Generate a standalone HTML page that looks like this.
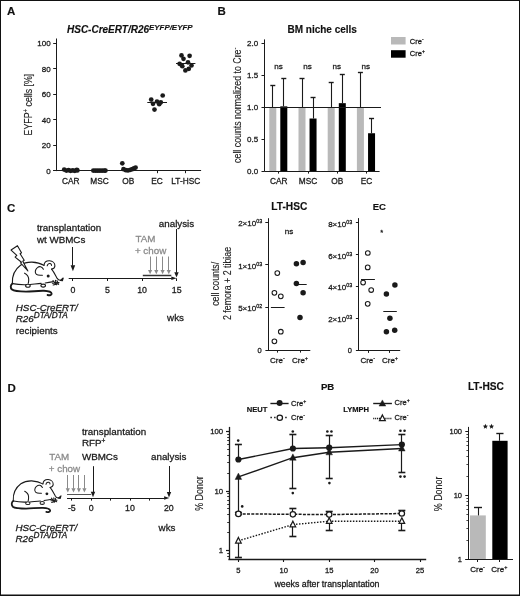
<!DOCTYPE html>
<html><head><meta charset="utf-8"><style>
html,body{margin:0;padding:0;background:#fff;}
svg{display:block;will-change:transform;}
text{font-family:"Liberation Sans", sans-serif;}
</style></head><body>
<svg width="520" height="596" viewBox="0 0 520 596" font-family='"Liberation Sans", sans-serif'>
<rect x="0" y="0" width="520" height="596" fill="#ffffff"/>
<text x="7" y="15.4" font-size="11.5" text-anchor="start" font-weight="bold" font-style="normal" fill="#111" stroke="#111" stroke-width="0.15" >A</text>
<text x="217.4" y="15.4" font-size="11.5" text-anchor="start" font-weight="bold" font-style="normal" fill="#111" stroke="#111" stroke-width="0.15" >B</text>
<text x="7.1" y="211.9" font-size="11.5" text-anchor="start" font-weight="bold" font-style="normal" fill="#111" stroke="#111" stroke-width="0.15" >C</text>
<text x="7.6" y="392" font-size="11.5" text-anchor="start" font-weight="bold" font-style="normal" fill="#111" stroke="#111" stroke-width="0.15" >D</text>
<text x="67" y="33.2" font-size="10" text-anchor="start" font-weight="bold" font-style="italic" fill="#111" stroke="#111" stroke-width="0.15" >HSC-CreERT/R26<tspan font-size="7.9" dy="-3.4">EYFP/EYFP</tspan></text>
<line x1="56.5" y1="38.5" x2="56.5" y2="171.1" stroke="#1a1a1a" stroke-width="1" />
<line x1="53.2" y1="170.5" x2="201.1" y2="170.5" stroke="#1a1a1a" stroke-width="1" />
<line x1="53.2" y1="170.5" x2="56.4" y2="170.5" stroke="#1a1a1a" stroke-width="1" />
<text x="50.6" y="173.5" font-size="8" text-anchor="end" font-weight="normal" font-style="normal" fill="#1a1a1a" stroke="#1a1a1a" stroke-width="0.28" >0</text>
<line x1="53.2" y1="145.5" x2="56.4" y2="145.5" stroke="#1a1a1a" stroke-width="1" />
<text x="50.6" y="148.06" font-size="8" text-anchor="end" font-weight="normal" font-style="normal" fill="#1a1a1a" stroke="#1a1a1a" stroke-width="0.28" >20</text>
<line x1="53.2" y1="119.5" x2="56.4" y2="119.5" stroke="#1a1a1a" stroke-width="1" />
<text x="50.6" y="122.62" font-size="8" text-anchor="end" font-weight="normal" font-style="normal" fill="#1a1a1a" stroke="#1a1a1a" stroke-width="0.28" >40</text>
<line x1="53.2" y1="94.5" x2="56.4" y2="94.5" stroke="#1a1a1a" stroke-width="1" />
<text x="50.6" y="97.18" font-size="8" text-anchor="end" font-weight="normal" font-style="normal" fill="#1a1a1a" stroke="#1a1a1a" stroke-width="0.28" >60</text>
<line x1="53.2" y1="68.5" x2="56.4" y2="68.5" stroke="#1a1a1a" stroke-width="1" />
<text x="50.6" y="71.74" font-size="8" text-anchor="end" font-weight="normal" font-style="normal" fill="#1a1a1a" stroke="#1a1a1a" stroke-width="0.28" >80</text>
<line x1="53.2" y1="43.5" x2="56.4" y2="43.5" stroke="#1a1a1a" stroke-width="1" />
<text x="50.6" y="46.3" font-size="8" text-anchor="end" font-weight="normal" font-style="normal" fill="#1a1a1a" stroke="#1a1a1a" stroke-width="0.28" >100</text>
<text x="70.8" y="184.1" font-size="8.3" text-anchor="middle" font-weight="normal" font-style="normal" fill="#1a1a1a" stroke="#1a1a1a" stroke-width="0.28" >CAR</text>
<text x="99.55" y="184.1" font-size="8.3" text-anchor="middle" font-weight="normal" font-style="normal" fill="#1a1a1a" stroke="#1a1a1a" stroke-width="0.28" >MSC</text>
<text x="128.3" y="184.1" font-size="8.3" text-anchor="middle" font-weight="normal" font-style="normal" fill="#1a1a1a" stroke="#1a1a1a" stroke-width="0.28" >OB</text>
<line x1="157.5" y1="170.6" x2="157.5" y2="173.2" stroke="#1a1a1a" stroke-width="1" />
<text x="157.05" y="184.1" font-size="8.3" text-anchor="middle" font-weight="normal" font-style="normal" fill="#1a1a1a" stroke="#1a1a1a" stroke-width="0.28" >EC</text>
<line x1="185.5" y1="170.6" x2="185.5" y2="173.2" stroke="#1a1a1a" stroke-width="1" />
<text x="185.8" y="184.1" font-size="8.3" text-anchor="middle" font-weight="normal" font-style="normal" fill="#1a1a1a" stroke="#1a1a1a" stroke-width="0.28" >LT-HSC</text>
<text transform="translate(31.6,104.6) rotate(-90) scale(0.87,1)" stroke="#1a1a1a" stroke-width="0.12" font-size="10.12" text-anchor="middle" fill="#1a1a1a">EYFP<tspan font-size="6.9" dy="-3.4">+</tspan><tspan dy="3.4"> cells [%]</tspan></text>
<circle cx="64.2" cy="169.6" r="2.35" fill="#1a1a1a" stroke="none" stroke-width="0"/>
<circle cx="66.4" cy="170.6" r="2.35" fill="#1a1a1a" stroke="none" stroke-width="0"/>
<circle cx="68.6" cy="170.2" r="2.35" fill="#1a1a1a" stroke="none" stroke-width="0"/>
<circle cx="70.6" cy="170.8" r="2.35" fill="#1a1a1a" stroke="none" stroke-width="0"/>
<circle cx="72.8" cy="170.4" r="2.35" fill="#1a1a1a" stroke="none" stroke-width="0"/>
<circle cx="74.8" cy="170.8" r="2.35" fill="#1a1a1a" stroke="none" stroke-width="0"/>
<circle cx="76.8" cy="169.8" r="2.35" fill="#1a1a1a" stroke="none" stroke-width="0"/>
<circle cx="77.4" cy="170.4" r="2.35" fill="#1a1a1a" stroke="none" stroke-width="0"/>
<circle cx="93.3" cy="170.6" r="2.35" fill="#1a1a1a" stroke="none" stroke-width="0"/>
<circle cx="95.5" cy="170.7" r="2.35" fill="#1a1a1a" stroke="none" stroke-width="0"/>
<circle cx="97.7" cy="170.7" r="2.35" fill="#1a1a1a" stroke="none" stroke-width="0"/>
<circle cx="99.9" cy="170.7" r="2.35" fill="#1a1a1a" stroke="none" stroke-width="0"/>
<circle cx="102.1" cy="170.7" r="2.35" fill="#1a1a1a" stroke="none" stroke-width="0"/>
<circle cx="104.3" cy="170.6" r="2.35" fill="#1a1a1a" stroke="none" stroke-width="0"/>
<circle cx="105.5" cy="170.6" r="2.35" fill="#1a1a1a" stroke="none" stroke-width="0"/>
<circle cx="122.3" cy="163.3" r="2.35" fill="#1a1a1a" stroke="none" stroke-width="0"/>
<circle cx="123.5" cy="169.2" r="2.35" fill="#1a1a1a" stroke="none" stroke-width="0"/>
<circle cx="125.8" cy="170.2" r="2.35" fill="#1a1a1a" stroke="none" stroke-width="0"/>
<circle cx="128" cy="170.4" r="2.35" fill="#1a1a1a" stroke="none" stroke-width="0"/>
<circle cx="130.3" cy="169.8" r="2.35" fill="#1a1a1a" stroke="none" stroke-width="0"/>
<circle cx="132.3" cy="169.2" r="2.35" fill="#1a1a1a" stroke="none" stroke-width="0"/>
<circle cx="134" cy="168.4" r="2.35" fill="#1a1a1a" stroke="none" stroke-width="0"/>
<circle cx="135.6" cy="167.6" r="2.35" fill="#1a1a1a" stroke="none" stroke-width="0"/>
<line x1="147.3" y1="102.5" x2="167" y2="102.5" stroke="#1a1a1a" stroke-width="1" />
<circle cx="162.7" cy="95.5" r="2.35" fill="#1a1a1a" stroke="none" stroke-width="0"/>
<circle cx="151.2" cy="99.6" r="2.35" fill="#1a1a1a" stroke="none" stroke-width="0"/>
<circle cx="153" cy="103.8" r="2.35" fill="#1a1a1a" stroke="none" stroke-width="0"/>
<circle cx="157" cy="101.5" r="2.35" fill="#1a1a1a" stroke="none" stroke-width="0"/>
<circle cx="159.2" cy="104.2" r="2.35" fill="#1a1a1a" stroke="none" stroke-width="0"/>
<circle cx="160.8" cy="102.3" r="2.35" fill="#1a1a1a" stroke="none" stroke-width="0"/>
<circle cx="154.5" cy="109.6" r="2.35" fill="#1a1a1a" stroke="none" stroke-width="0"/>
<line x1="176" y1="63.5" x2="195.4" y2="63.5" stroke="#1a1a1a" stroke-width="1" />
<circle cx="181.5" cy="55.4" r="2.35" fill="#1a1a1a" stroke="none" stroke-width="0"/>
<circle cx="189.6" cy="55.8" r="2.35" fill="#1a1a1a" stroke="none" stroke-width="0"/>
<circle cx="183.5" cy="58.8" r="2.35" fill="#1a1a1a" stroke="none" stroke-width="0"/>
<circle cx="188" cy="62.3" r="2.35" fill="#1a1a1a" stroke="none" stroke-width="0"/>
<circle cx="179.6" cy="63.8" r="2.35" fill="#1a1a1a" stroke="none" stroke-width="0"/>
<circle cx="182.3" cy="66.2" r="2.35" fill="#1a1a1a" stroke="none" stroke-width="0"/>
<circle cx="191.5" cy="65.4" r="2.35" fill="#1a1a1a" stroke="none" stroke-width="0"/>
<circle cx="185.4" cy="70.4" r="2.35" fill="#1a1a1a" stroke="none" stroke-width="0"/>
<circle cx="188.8" cy="68.8" r="2.35" fill="#1a1a1a" stroke="none" stroke-width="0"/>
<text x="322.2" y="33.3" font-size="10" text-anchor="middle" font-weight="bold" font-style="normal" fill="#111" stroke="#111" stroke-width="0.15" >BM niche cells</text>
<rect x="269.3" y="107" width="7" height="64" fill="#b9b9b9"/>
<rect x="280.3" y="106.36" width="7" height="64.64" fill="#000"/>
<rect x="298.5" y="107" width="7" height="64" fill="#b9b9b9"/>
<rect x="309.55" y="118.52" width="7" height="52.48" fill="#000"/>
<rect x="327.7" y="107" width="7" height="64" fill="#b9b9b9"/>
<rect x="338.8" y="103.16" width="7" height="67.84" fill="#000"/>
<rect x="356.9" y="107" width="7" height="64" fill="#b9b9b9"/>
<rect x="368.05" y="133.24" width="7" height="37.76" fill="#000"/>
<line x1="272.5" y1="107" x2="272.5" y2="85.7" stroke="#1a1a1a" stroke-width="1.1" />
<line x1="270.3" y1="85.5" x2="275.3" y2="85.5" stroke="#1a1a1a" stroke-width="1.4" />
<line x1="283.5" y1="106.36" x2="283.5" y2="78.9" stroke="#1a1a1a" stroke-width="1.1" />
<line x1="281.3" y1="78.5" x2="286.3" y2="78.5" stroke="#1a1a1a" stroke-width="1.4" />
<line x1="302.5" y1="107" x2="302.5" y2="78.6" stroke="#1a1a1a" stroke-width="1.1" />
<line x1="299.5" y1="78.5" x2="304.5" y2="78.5" stroke="#1a1a1a" stroke-width="1.4" />
<line x1="313.5" y1="118.52" x2="313.5" y2="97" stroke="#1a1a1a" stroke-width="1.1" />
<line x1="310.55" y1="97.5" x2="315.55" y2="97.5" stroke="#1a1a1a" stroke-width="1.4" />
<line x1="331.5" y1="107" x2="331.5" y2="82" stroke="#1a1a1a" stroke-width="1.1" />
<line x1="328.7" y1="82.5" x2="333.7" y2="82.5" stroke="#1a1a1a" stroke-width="1.4" />
<line x1="342.5" y1="103.16" x2="342.5" y2="74.2" stroke="#1a1a1a" stroke-width="1.1" />
<line x1="339.8" y1="74.5" x2="344.8" y2="74.5" stroke="#1a1a1a" stroke-width="1.4" />
<line x1="360.5" y1="107" x2="360.5" y2="72.8" stroke="#1a1a1a" stroke-width="1.1" />
<line x1="357.9" y1="72.5" x2="362.9" y2="72.5" stroke="#1a1a1a" stroke-width="1.4" />
<line x1="371.5" y1="133.24" x2="371.5" y2="118.5" stroke="#1a1a1a" stroke-width="1.1" />
<line x1="369.05" y1="118.5" x2="374.05" y2="118.5" stroke="#1a1a1a" stroke-width="1.4" />
<line x1="264.3" y1="107.5" x2="381" y2="107.5" stroke="#1a1a1a" stroke-width="1" />
<line x1="264.5" y1="39.4" x2="264.5" y2="171.5" stroke="#1a1a1a" stroke-width="1" />
<line x1="264.3" y1="171.5" x2="379.6" y2="171.5" stroke="#1a1a1a" stroke-width="1" />
<line x1="261.5" y1="171.5" x2="264.3" y2="171.5" stroke="#1a1a1a" stroke-width="1" />
<text x="258.2" y="173.9" font-size="8" text-anchor="end" font-weight="normal" font-style="normal" fill="#1a1a1a" stroke="#1a1a1a" stroke-width="0.28" >0.0</text>
<line x1="261.5" y1="139.5" x2="264.3" y2="139.5" stroke="#1a1a1a" stroke-width="1" />
<text x="258.2" y="141.9" font-size="8" text-anchor="end" font-weight="normal" font-style="normal" fill="#1a1a1a" stroke="#1a1a1a" stroke-width="0.28" >0.5</text>
<line x1="261.5" y1="107.5" x2="264.3" y2="107.5" stroke="#1a1a1a" stroke-width="1" />
<text x="258.2" y="109.9" font-size="8" text-anchor="end" font-weight="normal" font-style="normal" fill="#1a1a1a" stroke="#1a1a1a" stroke-width="0.28" >1.0</text>
<line x1="261.5" y1="75.5" x2="264.3" y2="75.5" stroke="#1a1a1a" stroke-width="1" />
<text x="258.2" y="77.9" font-size="8" text-anchor="end" font-weight="normal" font-style="normal" fill="#1a1a1a" stroke="#1a1a1a" stroke-width="0.28" >1.5</text>
<line x1="261.5" y1="43.5" x2="264.3" y2="43.5" stroke="#1a1a1a" stroke-width="1" />
<text x="258.2" y="45.9" font-size="8" text-anchor="end" font-weight="normal" font-style="normal" fill="#1a1a1a" stroke="#1a1a1a" stroke-width="0.28" >2.0</text>
<line x1="278.5" y1="171" x2="278.5" y2="173.6" stroke="#1a1a1a" stroke-width="1" />
<text x="278.8" y="184.3" font-size="8.3" text-anchor="middle" font-weight="normal" font-style="normal" fill="#1a1a1a" stroke="#1a1a1a" stroke-width="0.28" >CAR</text>
<text x="278.5" y="68.5" font-size="8.1" text-anchor="middle" font-weight="normal" font-style="normal" fill="#1a1a1a" stroke="#1a1a1a" stroke-width="0.28" >ns</text>
<line x1="308.5" y1="171" x2="308.5" y2="173.6" stroke="#1a1a1a" stroke-width="1" />
<text x="308" y="184.3" font-size="8.3" text-anchor="middle" font-weight="normal" font-style="normal" fill="#1a1a1a" stroke="#1a1a1a" stroke-width="0.28" >MSC</text>
<text x="307.6" y="68.5" font-size="8.1" text-anchor="middle" font-weight="normal" font-style="normal" fill="#1a1a1a" stroke="#1a1a1a" stroke-width="0.28" >ns</text>
<line x1="337.5" y1="171" x2="337.5" y2="173.6" stroke="#1a1a1a" stroke-width="1" />
<text x="337.2" y="184.3" font-size="8.3" text-anchor="middle" font-weight="normal" font-style="normal" fill="#1a1a1a" stroke="#1a1a1a" stroke-width="0.28" >OB</text>
<text x="336.7" y="68.5" font-size="8.1" text-anchor="middle" font-weight="normal" font-style="normal" fill="#1a1a1a" stroke="#1a1a1a" stroke-width="0.28" >ns</text>
<line x1="366.5" y1="171" x2="366.5" y2="173.6" stroke="#1a1a1a" stroke-width="1" />
<text x="366.4" y="184.3" font-size="8.3" text-anchor="middle" font-weight="normal" font-style="normal" fill="#1a1a1a" stroke="#1a1a1a" stroke-width="0.28" >EC</text>
<text x="365.8" y="68.5" font-size="8.1" text-anchor="middle" font-weight="normal" font-style="normal" fill="#1a1a1a" stroke="#1a1a1a" stroke-width="0.28" >ns</text>
<text transform="translate(240.6,105.3) rotate(-90) scale(0.87,1)" stroke="#1a1a1a" stroke-width="0.12" font-size="10.12" text-anchor="middle" fill="#1a1a1a">cell counts normalized to Cre<tspan font-size="6.3" dy="-3.4">-</tspan></text>
<rect x="391" y="37" width="14.6" height="7.5" fill="#b9b9b9"/>
<rect x="391" y="50.2" width="14.6" height="7.5" fill="#000"/>
<text x="409.8" y="43.7" font-size="7.5" text-anchor="start" font-weight="normal" font-style="normal" fill="#1a1a1a" stroke="#1a1a1a" stroke-width="0.28" >Cre<tspan font-size="5" dy="-3">-</tspan></text>
<text x="409.8" y="56.4" font-size="7.5" text-anchor="start" font-weight="normal" font-style="normal" fill="#1a1a1a" stroke="#1a1a1a" stroke-width="0.28" >Cre<tspan font-size="5" dy="-3">+</tspan></text>
<g transform="translate(0,245) scale(1.0)" fill="none" stroke="#1a1a1a" stroke-width="1.1" stroke-linecap="round" stroke-linejoin="round">
<path d="M12.4,38.2 C12,31 14,25 20.5,20.2 C24,17.8 28,17 32,17.1 C36,17.3 40,18 43.8,20.3"/>
<path d="M44,20.4 C44.2,17.3 46.3,15.6 49.5,15.7 C52.6,15.9 55,18 54.9,21 C54.8,22.8 53.4,23.8 51.6,24.1"/>
<path d="M47.2,20.8 C47.6,18.9 49,18.2 50.2,18.6 C51.2,19 51.6,19.8 51.5,20.4"/>
<path d="M51.6,24.1 C54,27 55.6,30.5 57.2,33.4 C58.2,35 59.5,35.3 60.6,35.2"/>
<path d="M60.4,35.4 L63.2,33 L62.4,35.8 Z" fill="#1a1a1a"/>
<path d="M43.4,24.2 C42,21.4 39.4,21 37.4,22.6 C35,24.4 34.6,28 36.4,29.4 C38,30.6 40.5,30.4 42.4,30.2"/>
<circle cx="48.2" cy="30.9" r="1.5" fill="#1a1a1a" stroke="none"/>
<path d="M24.6,28.2 C27,29.5 28.6,31.5 28.7,34 C28.8,35.5 28.6,37 28.3,38.3"/>
<path d="M12.6,38.6 C17,39.5 22,39.8 26,39.7 M30.2,39.5 C34,39.1 38,38.8 41.2,38.4 M45.2,38 C48,37.4 50.5,37 53.4,36.6"/>
<ellipse cx="27.9" cy="40.8" rx="2.3" ry="1.5"/>
<ellipse cx="43.2" cy="40.6" rx="2.3" ry="1.5"/>
<path d="M53,35.5 L55.6,38.6 M55.4,35.2 L56.4,39.8 M57,35.6 L58.6,39.4 M52.4,38.2 L59,37.6 M53.2,40 L58.4,38.6"/>
<path d="M12.4,38.4 C10.4,40 10.2,43 12,44.6 C14,46.2 18,46.6 26,46.6 C32,46.6 38,45.6 44,45.8 C48,46 51.4,47 51.6,48.6 C51.8,50.2 49.8,50.6 47.6,50" stroke-width="1.9"/>
<path d="M11.06,5.07 L17.45,0.7 L21.5,7.8 L20.1,8.8 L24.2,15.2 L22.8,16.2 L27.9,25.9 L20.6,18 L21.5,17.2 L15.1,12.1 L16.8,10.4 Z" fill="#fff"/>
</g>
<text x="36.9" y="230.8" font-size="9.8" text-anchor="start" font-weight="normal" font-style="normal" fill="#1a1a1a" stroke="#1a1a1a" stroke-width="0.28" >transplantation</text>
<text x="36.9" y="242.7" font-size="9.8" text-anchor="start" font-weight="normal" font-style="normal" fill="#1a1a1a" stroke="#1a1a1a" stroke-width="0.28" >wt WBMCs</text>
<line x1="72.5" y1="247" x2="72.5" y2="265.7" stroke="#1a1a1a" stroke-width="1" />
<path d="M70.6,265.2 L75.2,265.2 L72.9,271.2 Z" fill="#1a1a1a"/>
<text x="158.8" y="226.5" font-size="9.8" text-anchor="start" font-weight="normal" font-style="normal" fill="#1a1a1a" stroke="#1a1a1a" stroke-width="0.28" >analysis</text>
<line x1="176.5" y1="229" x2="176.5" y2="272.7" stroke="#1a1a1a" stroke-width="1" />
<path d="M174.3,272.2 L178.7,272.2 L176.5,277.4 Z" fill="#1a1a1a"/>
<text x="135.4" y="242.3" font-size="9.8" text-anchor="start" font-weight="normal" font-style="normal" fill="#8a8a8a" stroke="#8a8a8a" stroke-width="0.28" >TAM</text>
<text x="134.9" y="254.4" font-size="9.8" text-anchor="start" font-weight="normal" font-style="normal" fill="#8a8a8a" stroke="#8a8a8a" stroke-width="0.28" >+ chow</text>
<line x1="150.5" y1="256.5" x2="150.5" y2="270.4" stroke="#8a8a8a" stroke-width="1" />
<path d="M148,269.9 L152.2,269.9 L150.1,274.3 Z" fill="#8a8a8a"/>
<line x1="156.5" y1="256.5" x2="156.5" y2="270.4" stroke="#8a8a8a" stroke-width="1" />
<path d="M154.2,269.9 L158.4,269.9 L156.3,274.3 Z" fill="#8a8a8a"/>
<line x1="162.5" y1="256.5" x2="162.5" y2="270.4" stroke="#8a8a8a" stroke-width="1" />
<path d="M160.5,269.9 L164.7,269.9 L162.6,274.3 Z" fill="#8a8a8a"/>
<line x1="168.5" y1="256.5" x2="168.5" y2="270.4" stroke="#8a8a8a" stroke-width="1" />
<path d="M166.7,269.9 L170.9,269.9 L168.8,274.3 Z" fill="#8a8a8a"/>
<line x1="142.8" y1="275.5" x2="171.3" y2="275.5" stroke="#333" stroke-width="1.5" />
<line x1="68.7" y1="278.5" x2="171.8" y2="278.5" stroke="#1a1a1a" stroke-width="1" />
<path d="M171.3,276.5 L171.3,280.1 L176.6,278.3 Z" fill="#1a1a1a"/>
<line x1="72.5" y1="278.3" x2="72.5" y2="281" stroke="#1a1a1a" stroke-width="1" />
<text x="72.9" y="293" font-size="8.8" text-anchor="middle" font-weight="normal" font-style="normal" fill="#1a1a1a" stroke="#1a1a1a" stroke-width="0.28" >0</text>
<line x1="107.5" y1="278.3" x2="107.5" y2="281" stroke="#1a1a1a" stroke-width="1" />
<text x="107.5" y="293" font-size="8.8" text-anchor="middle" font-weight="normal" font-style="normal" fill="#1a1a1a" stroke="#1a1a1a" stroke-width="0.28" >5</text>
<line x1="142.5" y1="278.3" x2="142.5" y2="281" stroke="#1a1a1a" stroke-width="1" />
<text x="142.1" y="293" font-size="8.8" text-anchor="middle" font-weight="normal" font-style="normal" fill="#1a1a1a" stroke="#1a1a1a" stroke-width="0.28" >10</text>
<line x1="176.5" y1="278.3" x2="176.5" y2="281" stroke="#1a1a1a" stroke-width="1" />
<text x="176.7" y="293" font-size="8.8" text-anchor="middle" font-weight="normal" font-style="normal" fill="#1a1a1a" stroke="#1a1a1a" stroke-width="0.28" >15</text>
<text x="167.1" y="320.8" font-size="9.8" text-anchor="start" font-weight="normal" font-style="normal" fill="#1a1a1a" stroke="#1a1a1a" stroke-width="0.28" >wks</text>
<text x="15.8" y="310.8" font-size="9.8" text-anchor="start" font-weight="normal" font-style="italic" fill="#1a1a1a" stroke="#1a1a1a" stroke-width="0.28" >HSC-CreERT/</text>
<text x="15.8" y="321.8" font-size="9.8" text-anchor="start" font-weight="normal" font-style="italic" fill="#1a1a1a" stroke="#1a1a1a" stroke-width="0.28" >R26<tspan font-size="8.2" dy="-3.8">DTA/DTA</tspan></text>
<text x="15.8" y="333.7" font-size="9.8" text-anchor="start" font-weight="normal" font-style="normal" fill="#1a1a1a" stroke="#1a1a1a" stroke-width="0.28" >recipients</text>
<text x="271.3" y="210.4" font-size="10.2" text-anchor="start" font-weight="bold" font-style="normal" fill="#111" stroke="#111" stroke-width="0.15" >LT-HSC</text>
<line x1="268.5" y1="218.2" x2="268.5" y2="350.5" stroke="#1a1a1a" stroke-width="1" />
<line x1="265.4" y1="350.5" x2="310.3" y2="350.5" stroke="#1a1a1a" stroke-width="1" />
<line x1="265.3" y1="222.5" x2="268" y2="222.5" stroke="#1a1a1a" stroke-width="1" />
<text x="262.2" y="225.9" font-size="8" text-anchor="end" font-weight="normal" font-style="normal" fill="#1a1a1a" stroke="#1a1a1a" stroke-width="0.28" >2×10<tspan font-size="5.4" dy="-3.0">03</tspan></text>
<line x1="265.3" y1="264.5" x2="268" y2="264.5" stroke="#1a1a1a" stroke-width="1" />
<text x="262.2" y="268.6" font-size="8" text-anchor="end" font-weight="normal" font-style="normal" fill="#1a1a1a" stroke="#1a1a1a" stroke-width="0.28" >1×10<tspan font-size="5.4" dy="-3.0">03</tspan></text>
<line x1="265.3" y1="307.5" x2="268" y2="307.5" stroke="#1a1a1a" stroke-width="1" />
<text x="262.2" y="311" font-size="8" text-anchor="end" font-weight="normal" font-style="normal" fill="#1a1a1a" stroke="#1a1a1a" stroke-width="0.28" >5×10<tspan font-size="5.4" dy="-3.0">02</tspan></text>
<text x="261.6" y="352.6" font-size="7.5" text-anchor="end" font-weight="normal" font-style="normal" fill="#1a1a1a" stroke="#1a1a1a" stroke-width="0.28" >0</text>
<line x1="277.5" y1="350" x2="277.5" y2="352.6" stroke="#1a1a1a" stroke-width="1" />
<line x1="300.5" y1="350" x2="300.5" y2="352.6" stroke="#1a1a1a" stroke-width="1" />
<text x="277.4" y="363.4" font-size="8" text-anchor="middle" font-weight="normal" font-style="normal" fill="#1a1a1a" stroke="#1a1a1a" stroke-width="0.28" >Cre<tspan font-size="5.5" dy="-3">-</tspan></text>
<text x="300" y="363.4" font-size="8" text-anchor="middle" font-weight="normal" font-style="normal" fill="#1a1a1a" stroke="#1a1a1a" stroke-width="0.28" >Cre<tspan font-size="5.5" dy="-3">+</tspan></text>
<text x="289" y="233.5" font-size="8.1" text-anchor="middle" font-weight="normal" font-style="normal" fill="#1a1a1a" stroke="#1a1a1a" stroke-width="0.28" >ns</text>
<text transform="translate(219.3,283.8) rotate(-90) scale(0.87,1)" stroke="#1a1a1a" stroke-width="0.12" font-size="10.12" text-anchor="middle" fill="#1a1a1a">cell counts/</text>
<text transform="translate(230.6,283.5) rotate(-90) scale(0.87,1)" stroke="#1a1a1a" stroke-width="0.12" font-size="10.12" text-anchor="middle" fill="#1a1a1a">2 femora + 2 tibiae</text>
<circle cx="277.3" cy="273.1" r="2.35" fill="#fff" stroke="#1a1a1a" stroke-width="1.05"/>
<circle cx="274.4" cy="292.8" r="2.35" fill="#fff" stroke="#1a1a1a" stroke-width="1.05"/>
<circle cx="280.8" cy="296.3" r="2.35" fill="#fff" stroke="#1a1a1a" stroke-width="1.05"/>
<circle cx="280.8" cy="331.7" r="2.35" fill="#fff" stroke="#1a1a1a" stroke-width="1.05"/>
<circle cx="274.4" cy="341.3" r="2.35" fill="#fff" stroke="#1a1a1a" stroke-width="1.05"/>
<line x1="270.9" y1="307.5" x2="284.6" y2="307.5" stroke="#1a1a1a" stroke-width="1" />
<circle cx="296.4" cy="263.8" r="2.75" fill="#1a1a1a" stroke="none" stroke-width="0"/>
<circle cx="303.1" cy="262.4" r="2.75" fill="#1a1a1a" stroke="none" stroke-width="0"/>
<circle cx="296.4" cy="283.5" r="2.75" fill="#1a1a1a" stroke="none" stroke-width="0"/>
<circle cx="303.1" cy="292.8" r="2.75" fill="#1a1a1a" stroke="none" stroke-width="0"/>
<circle cx="300" cy="317.5" r="2.75" fill="#1a1a1a" stroke="none" stroke-width="0"/>
<line x1="297" y1="284.5" x2="306.7" y2="284.5" stroke="#1a1a1a" stroke-width="1" />
<text x="372.7" y="210.4" font-size="9.5" text-anchor="start" font-weight="bold" font-style="normal" fill="#111" stroke="#111" stroke-width="0.15" >EC</text>
<line x1="358.5" y1="218.1" x2="358.5" y2="350.8" stroke="#1a1a1a" stroke-width="1" />
<line x1="355.9" y1="350.5" x2="400.2" y2="350.5" stroke="#1a1a1a" stroke-width="1" />
<line x1="355.9" y1="222.5" x2="358.6" y2="222.5" stroke="#1a1a1a" stroke-width="1" />
<text x="352.2" y="226.6" font-size="8" text-anchor="end" font-weight="normal" font-style="normal" fill="#1a1a1a" stroke="#1a1a1a" stroke-width="0.28" >8×10<tspan font-size="5.4" dy="-3.0">03</tspan></text>
<line x1="355.9" y1="254.5" x2="358.6" y2="254.5" stroke="#1a1a1a" stroke-width="1" />
<text x="352.2" y="258.5" font-size="8" text-anchor="end" font-weight="normal" font-style="normal" fill="#1a1a1a" stroke="#1a1a1a" stroke-width="0.28" >6×10<tspan font-size="5.4" dy="-3.0">03</tspan></text>
<line x1="355.9" y1="286.5" x2="358.6" y2="286.5" stroke="#1a1a1a" stroke-width="1" />
<text x="352.2" y="290.4" font-size="8" text-anchor="end" font-weight="normal" font-style="normal" fill="#1a1a1a" stroke="#1a1a1a" stroke-width="0.28" >4×10<tspan font-size="5.4" dy="-3.0">03</tspan></text>
<line x1="355.9" y1="318.5" x2="358.6" y2="318.5" stroke="#1a1a1a" stroke-width="1" />
<text x="352.2" y="322.3" font-size="8" text-anchor="end" font-weight="normal" font-style="normal" fill="#1a1a1a" stroke="#1a1a1a" stroke-width="0.28" >2×10<tspan font-size="5.4" dy="-3.0">03</tspan></text>
<text x="351.8" y="352.9" font-size="7.5" text-anchor="end" font-weight="normal" font-style="normal" fill="#1a1a1a" stroke="#1a1a1a" stroke-width="0.28" >0</text>
<line x1="368.5" y1="350.3" x2="368.5" y2="352.9" stroke="#1a1a1a" stroke-width="1" />
<line x1="389.5" y1="350.3" x2="389.5" y2="352.9" stroke="#1a1a1a" stroke-width="1" />
<text x="367.8" y="363.4" font-size="8" text-anchor="middle" font-weight="normal" font-style="normal" fill="#1a1a1a" stroke="#1a1a1a" stroke-width="0.28" >Cre<tspan font-size="5.5" dy="-3">-</tspan></text>
<text x="390" y="363.4" font-size="8" text-anchor="middle" font-weight="normal" font-style="normal" fill="#1a1a1a" stroke="#1a1a1a" stroke-width="0.28" >Cre<tspan font-size="5.5" dy="-3">+</tspan></text>
<text x="381.6" y="234.6" font-size="7.5" text-anchor="middle" font-weight="normal" font-style="normal" fill="#1a1a1a" stroke="#1a1a1a" stroke-width="0.28" >*</text>
<circle cx="367.8" cy="253" r="2.35" fill="#fff" stroke="#1a1a1a" stroke-width="1.05"/>
<circle cx="367.7" cy="267.4" r="2.35" fill="#fff" stroke="#1a1a1a" stroke-width="1.05"/>
<circle cx="363.1" cy="282.6" r="2.35" fill="#fff" stroke="#1a1a1a" stroke-width="1.05"/>
<circle cx="371.2" cy="290" r="2.35" fill="#fff" stroke="#1a1a1a" stroke-width="1.05"/>
<circle cx="367.7" cy="303.8" r="2.35" fill="#fff" stroke="#1a1a1a" stroke-width="1.05"/>
<line x1="361" y1="279.5" x2="374.9" y2="279.5" stroke="#1a1a1a" stroke-width="1" />
<circle cx="394.9" cy="285" r="2.75" fill="#1a1a1a" stroke="none" stroke-width="0"/>
<circle cx="386.4" cy="294.1" r="2.75" fill="#1a1a1a" stroke="none" stroke-width="0"/>
<circle cx="389.9" cy="318.2" r="2.75" fill="#1a1a1a" stroke="none" stroke-width="0"/>
<circle cx="386.4" cy="331.7" r="2.75" fill="#1a1a1a" stroke="none" stroke-width="0"/>
<circle cx="394.7" cy="330.3" r="2.75" fill="#1a1a1a" stroke="none" stroke-width="0"/>
<line x1="383.3" y1="311.5" x2="396.8" y2="311.5" stroke="#1a1a1a" stroke-width="1" />
<g transform="translate(1.6,464.8) scale(0.94)" fill="none" stroke="#1a1a1a" stroke-width="1.1" stroke-linecap="round" stroke-linejoin="round">
<path d="M12.4,38.2 C12,31 14,25 20.5,20.2 C24,17.8 28,17 32,17.1 C36,17.3 40,18 43.8,20.3"/>
<path d="M44,20.4 C44.2,17.3 46.3,15.6 49.5,15.7 C52.6,15.9 55,18 54.9,21 C54.8,22.8 53.4,23.8 51.6,24.1"/>
<path d="M47.2,20.8 C47.6,18.9 49,18.2 50.2,18.6 C51.2,19 51.6,19.8 51.5,20.4"/>
<path d="M51.6,24.1 C54,27 55.6,30.5 57.2,33.4 C58.2,35 59.5,35.3 60.6,35.2"/>
<path d="M60.4,35.4 L63.2,33 L62.4,35.8 Z" fill="#1a1a1a"/>
<path d="M43.4,24.2 C42,21.4 39.4,21 37.4,22.6 C35,24.4 34.6,28 36.4,29.4 C38,30.6 40.5,30.4 42.4,30.2"/>
<circle cx="48.2" cy="30.9" r="1.5" fill="#1a1a1a" stroke="none"/>
<path d="M24.6,28.2 C27,29.5 28.6,31.5 28.7,34 C28.8,35.5 28.6,37 28.3,38.3"/>
<path d="M12.6,38.6 C17,39.5 22,39.8 26,39.7 M30.2,39.5 C34,39.1 38,38.8 41.2,38.4 M45.2,38 C48,37.4 50.5,37 53.4,36.6"/>
<ellipse cx="27.9" cy="40.8" rx="2.3" ry="1.5"/>
<ellipse cx="43.2" cy="40.6" rx="2.3" ry="1.5"/>
<path d="M53,35.5 L55.6,38.6 M55.4,35.2 L56.4,39.8 M57,35.6 L58.6,39.4 M52.4,38.2 L59,37.6 M53.2,40 L58.4,38.6"/>
<path d="M12.4,38.4 C10.4,40 10.2,43 12,44.6 C14,46.2 18,46.6 26,46.6 C32,46.6 38,45.6 44,45.8 C48,46 51.4,47 51.6,48.6 C51.8,50.2 49.8,50.6 47.6,50" stroke-width="1.9"/>
</g>
<text x="81.9" y="434.6" font-size="9.8" text-anchor="start" font-weight="normal" font-style="normal" fill="#1a1a1a" stroke="#1a1a1a" stroke-width="0.28" >transplantation</text>
<text x="81.9" y="446.2" font-size="9.8" text-anchor="start" font-weight="normal" font-style="normal" fill="#1a1a1a" stroke="#1a1a1a" stroke-width="0.28" >RFP<tspan font-size="6.5" dy="-3.6">+</tspan></text>
<text x="81.9" y="460.3" font-size="9.8" text-anchor="start" font-weight="normal" font-style="normal" fill="#1a1a1a" stroke="#1a1a1a" stroke-width="0.28" >WBMCs</text>
<text x="49.3" y="460.3" font-size="9.8" text-anchor="start" font-weight="normal" font-style="normal" fill="#8a8a8a" stroke="#8a8a8a" stroke-width="0.28" >TAM</text>
<text x="48.8" y="471.5" font-size="9.8" text-anchor="start" font-weight="normal" font-style="normal" fill="#8a8a8a" stroke="#8a8a8a" stroke-width="0.28" >+ chow</text>
<line x1="67.5" y1="475" x2="67.5" y2="488.7" stroke="#8a8a8a" stroke-width="1" />
<path d="M65.7,488.2 L69.9,488.2 L67.8,492.6 Z" fill="#8a8a8a"/>
<line x1="73.5" y1="475" x2="73.5" y2="488.7" stroke="#8a8a8a" stroke-width="1" />
<path d="M71.4,488.2 L75.6,488.2 L73.5,492.6 Z" fill="#8a8a8a"/>
<line x1="78.5" y1="475" x2="78.5" y2="488.7" stroke="#8a8a8a" stroke-width="1" />
<path d="M76.8,488.2 L81,488.2 L78.9,492.6 Z" fill="#8a8a8a"/>
<line x1="84.5" y1="475" x2="84.5" y2="488.7" stroke="#8a8a8a" stroke-width="1" />
<path d="M82.3,488.2 L86.5,488.2 L84.4,492.6 Z" fill="#8a8a8a"/>
<line x1="67" y1="494.5" x2="91.2" y2="494.5" stroke="#555" stroke-width="1" />
<line x1="93.5" y1="466.2" x2="93.5" y2="492.3" stroke="#1a1a1a" stroke-width="1" />
<path d="M90.8,491.8 L95.2,491.8 L93,497.3 Z" fill="#1a1a1a"/>
<text x="151" y="460.1" font-size="9.8" text-anchor="start" font-weight="normal" font-style="normal" fill="#1a1a1a" stroke="#1a1a1a" stroke-width="0.28" >analysis</text>
<line x1="169.5" y1="466" x2="169.5" y2="492.6" stroke="#1a1a1a" stroke-width="1" />
<path d="M166.8,492.1 L171.2,492.1 L169,497.6 Z" fill="#1a1a1a"/>
<line x1="67" y1="498.5" x2="164.6" y2="498.5" stroke="#1a1a1a" stroke-width="1" />
<path d="M164.1,496.2 L164.1,499.8 L169.4,498 Z" fill="#1a1a1a"/>
<line x1="71.5" y1="498" x2="71.5" y2="500.6" stroke="#1a1a1a" stroke-width="1" />
<line x1="91.5" y1="498" x2="91.5" y2="500.6" stroke="#1a1a1a" stroke-width="1" />
<line x1="110.5" y1="498" x2="110.5" y2="500.6" stroke="#1a1a1a" stroke-width="1" />
<line x1="130.5" y1="498" x2="130.5" y2="500.6" stroke="#1a1a1a" stroke-width="1" />
<line x1="149.5" y1="498" x2="149.5" y2="500.6" stroke="#1a1a1a" stroke-width="1" />
<text x="71.8" y="510.8" font-size="8.8" text-anchor="middle" font-weight="normal" font-style="normal" fill="#1a1a1a" stroke="#1a1a1a" stroke-width="0.28" >-5</text>
<text x="91.2" y="510.8" font-size="8.8" text-anchor="middle" font-weight="normal" font-style="normal" fill="#1a1a1a" stroke="#1a1a1a" stroke-width="0.28" >0</text>
<text x="130" y="510.8" font-size="8.8" text-anchor="middle" font-weight="normal" font-style="normal" fill="#1a1a1a" stroke="#1a1a1a" stroke-width="0.28" >10</text>
<text x="168.8" y="510.8" font-size="8.8" text-anchor="middle" font-weight="normal" font-style="normal" fill="#1a1a1a" stroke="#1a1a1a" stroke-width="0.28" >20</text>
<text x="158.6" y="531.4" font-size="9.8" text-anchor="start" font-weight="normal" font-style="normal" fill="#1a1a1a" stroke="#1a1a1a" stroke-width="0.28" >wks</text>
<text x="15.4" y="531.2" font-size="9.8" text-anchor="start" font-weight="normal" font-style="italic" fill="#1a1a1a" stroke="#1a1a1a" stroke-width="0.28" >HSC-CreERT/</text>
<text x="15.4" y="541.8" font-size="9.8" text-anchor="start" font-weight="normal" font-style="italic" fill="#1a1a1a" stroke="#1a1a1a" stroke-width="0.28" >R26<tspan font-size="8.2" dy="-3.8">DTA/DTA</tspan></text>
<text x="327.6" y="390.2" font-size="9.6" text-anchor="middle" font-weight="bold" font-style="normal" fill="#111" stroke="#111" stroke-width="0.15" >PB</text>
<line x1="229.5" y1="426.9" x2="229.5" y2="559.8" stroke="#1a1a1a" stroke-width="1.3" />
<line x1="228.4" y1="559.5" x2="426.2" y2="559.5" stroke="#1a1a1a" stroke-width="1.3" />
<line x1="226" y1="550.5" x2="229" y2="550.5" stroke="#1a1a1a" stroke-width="1.2" />
<text x="223.2" y="553.3" font-size="7.8" text-anchor="end" font-weight="normal" font-style="normal" fill="#1a1a1a" stroke="#1a1a1a" stroke-width="0.28" >1</text>
<line x1="226" y1="491.5" x2="229" y2="491.5" stroke="#1a1a1a" stroke-width="1.2" />
<text x="223.2" y="493.7" font-size="7.8" text-anchor="end" font-weight="normal" font-style="normal" fill="#1a1a1a" stroke="#1a1a1a" stroke-width="0.28" >10</text>
<line x1="226" y1="431.5" x2="229" y2="431.5" stroke="#1a1a1a" stroke-width="1.2" />
<text x="223.2" y="434.1" font-size="7.8" text-anchor="end" font-weight="normal" font-style="normal" fill="#1a1a1a" stroke="#1a1a1a" stroke-width="0.28" >100</text>
<line x1="227.2" y1="556.5" x2="229" y2="556.5" stroke="#1a1a1a" stroke-width="0.9" />
<line x1="227.2" y1="553.5" x2="229" y2="553.5" stroke="#1a1a1a" stroke-width="0.9" />
<line x1="227.2" y1="532.5" x2="229" y2="532.5" stroke="#1a1a1a" stroke-width="0.9" />
<line x1="227.2" y1="522.5" x2="229" y2="522.5" stroke="#1a1a1a" stroke-width="0.9" />
<line x1="227.2" y1="514.5" x2="229" y2="514.5" stroke="#1a1a1a" stroke-width="0.9" />
<line x1="227.2" y1="508.5" x2="229" y2="508.5" stroke="#1a1a1a" stroke-width="0.9" />
<line x1="227.2" y1="504.5" x2="229" y2="504.5" stroke="#1a1a1a" stroke-width="0.9" />
<line x1="227.2" y1="500.5" x2="229" y2="500.5" stroke="#1a1a1a" stroke-width="0.9" />
<line x1="227.2" y1="496.5" x2="229" y2="496.5" stroke="#1a1a1a" stroke-width="0.9" />
<line x1="227.2" y1="493.5" x2="229" y2="493.5" stroke="#1a1a1a" stroke-width="0.9" />
<line x1="227.2" y1="473.5" x2="229" y2="473.5" stroke="#1a1a1a" stroke-width="0.9" />
<line x1="227.2" y1="462.5" x2="229" y2="462.5" stroke="#1a1a1a" stroke-width="0.9" />
<line x1="227.2" y1="455.5" x2="229" y2="455.5" stroke="#1a1a1a" stroke-width="0.9" />
<line x1="227.2" y1="449.5" x2="229" y2="449.5" stroke="#1a1a1a" stroke-width="0.9" />
<line x1="227.2" y1="444.5" x2="229" y2="444.5" stroke="#1a1a1a" stroke-width="0.9" />
<line x1="227.2" y1="440.5" x2="229" y2="440.5" stroke="#1a1a1a" stroke-width="0.9" />
<line x1="227.2" y1="437.5" x2="229" y2="437.5" stroke="#1a1a1a" stroke-width="0.9" />
<line x1="227.2" y1="434.5" x2="229" y2="434.5" stroke="#1a1a1a" stroke-width="0.9" />
<line x1="238.5" y1="559.2" x2="238.5" y2="562" stroke="#1a1a1a" stroke-width="1.1" />
<text x="238.4" y="572.5" font-size="7.6" text-anchor="middle" font-weight="normal" font-style="normal" fill="#1a1a1a" stroke="#1a1a1a" stroke-width="0.28" >5</text>
<line x1="283.5" y1="559.2" x2="283.5" y2="562" stroke="#1a1a1a" stroke-width="1.1" />
<text x="283.8" y="572.5" font-size="7.6" text-anchor="middle" font-weight="normal" font-style="normal" fill="#1a1a1a" stroke="#1a1a1a" stroke-width="0.28" >10</text>
<line x1="329.5" y1="559.2" x2="329.5" y2="562" stroke="#1a1a1a" stroke-width="1.1" />
<text x="329.2" y="572.5" font-size="7.6" text-anchor="middle" font-weight="normal" font-style="normal" fill="#1a1a1a" stroke="#1a1a1a" stroke-width="0.28" >15</text>
<line x1="374.5" y1="559.2" x2="374.5" y2="562" stroke="#1a1a1a" stroke-width="1.1" />
<text x="374.6" y="572.5" font-size="7.6" text-anchor="middle" font-weight="normal" font-style="normal" fill="#1a1a1a" stroke="#1a1a1a" stroke-width="0.28" >20</text>
<line x1="420.5" y1="559.2" x2="420.5" y2="562" stroke="#1a1a1a" stroke-width="1.1" />
<text x="420" y="572.5" font-size="7.6" text-anchor="middle" font-weight="normal" font-style="normal" fill="#1a1a1a" stroke="#1a1a1a" stroke-width="0.28" >25</text>
<text x="274.5" y="586.5" font-size="8.8" text-anchor="start" font-weight="normal" font-style="normal" fill="#1a1a1a" stroke="#1a1a1a" stroke-width="0.28" textLength="105" lengthAdjust="spacingAndGlyphs">weeks after transplantation</text>
<text transform="translate(203.4,493.5) rotate(-90) scale(0.87,1)" stroke="#1a1a1a" stroke-width="0.12" font-size="10.23" text-anchor="middle" fill="#1a1a1a">% Donor</text>
<line x1="238.5" y1="459.5" x2="238.5" y2="444.5" stroke="#1a1a1a" stroke-width="1.2" />
<line x1="234.9" y1="444.5" x2="241.9" y2="444.5" stroke="#1a1a1a" stroke-width="1.6" />
<line x1="238.5" y1="476.9" x2="238.5" y2="514" stroke="#1a1a1a" stroke-width="1.2" />
<line x1="234.9" y1="514.5" x2="241.9" y2="514.5" stroke="#1a1a1a" stroke-width="1.6" />
<line x1="238.5" y1="513.9" x2="238.5" y2="512" stroke="#1a1a1a" stroke-width="1.2" />
<line x1="234.9" y1="512.5" x2="241.9" y2="512.5" stroke="#1a1a1a" stroke-width="1.6" />
<line x1="238.5" y1="540.8" x2="238.5" y2="557.6" stroke="#1a1a1a" stroke-width="1.2" />
<line x1="234.9" y1="557.5" x2="241.9" y2="557.5" stroke="#1a1a1a" stroke-width="1.6" />
<line x1="292.5" y1="448.5" x2="292.5" y2="434.9" stroke="#1a1a1a" stroke-width="1.2" />
<line x1="289.38" y1="434.5" x2="296.38" y2="434.5" stroke="#1a1a1a" stroke-width="1.6" />
<line x1="292.5" y1="457.7" x2="292.5" y2="488.8" stroke="#1a1a1a" stroke-width="1.2" />
<line x1="289.38" y1="488.5" x2="296.38" y2="488.5" stroke="#1a1a1a" stroke-width="1.6" />
<line x1="292.5" y1="514.3" x2="292.5" y2="508.2" stroke="#1a1a1a" stroke-width="1.2" />
<line x1="289.38" y1="508.5" x2="296.38" y2="508.5" stroke="#1a1a1a" stroke-width="1.6" />
<line x1="292.5" y1="524.6" x2="292.5" y2="536.2" stroke="#1a1a1a" stroke-width="1.2" />
<line x1="289.38" y1="536.5" x2="296.38" y2="536.5" stroke="#1a1a1a" stroke-width="1.6" />
<line x1="329.5" y1="447.7" x2="329.5" y2="435" stroke="#1a1a1a" stroke-width="1.2" />
<line x1="325.7" y1="435.5" x2="332.7" y2="435.5" stroke="#1a1a1a" stroke-width="1.6" />
<line x1="329.5" y1="452.3" x2="329.5" y2="478.8" stroke="#1a1a1a" stroke-width="1.2" />
<line x1="325.7" y1="478.5" x2="332.7" y2="478.5" stroke="#1a1a1a" stroke-width="1.6" />
<line x1="329.5" y1="514.6" x2="329.5" y2="511.5" stroke="#1a1a1a" stroke-width="1.2" />
<line x1="325.7" y1="511.5" x2="332.7" y2="511.5" stroke="#1a1a1a" stroke-width="1.6" />
<line x1="329.5" y1="521.2" x2="329.5" y2="530.5" stroke="#1a1a1a" stroke-width="1.2" />
<line x1="325.7" y1="530.5" x2="332.7" y2="530.5" stroke="#1a1a1a" stroke-width="1.6" />
<line x1="401.5" y1="444.6" x2="401.5" y2="434.6" stroke="#1a1a1a" stroke-width="1.2" />
<line x1="398.34" y1="434.5" x2="405.34" y2="434.5" stroke="#1a1a1a" stroke-width="1.6" />
<line x1="401.5" y1="448.5" x2="401.5" y2="472.3" stroke="#1a1a1a" stroke-width="1.2" />
<line x1="398.34" y1="472.5" x2="405.34" y2="472.5" stroke="#1a1a1a" stroke-width="1.6" />
<line x1="401.5" y1="513.5" x2="401.5" y2="510" stroke="#1a1a1a" stroke-width="1.2" />
<line x1="398.34" y1="510.5" x2="405.34" y2="510.5" stroke="#1a1a1a" stroke-width="1.6" />
<line x1="401.5" y1="521.2" x2="401.5" y2="530.3" stroke="#1a1a1a" stroke-width="1.2" />
<line x1="398.34" y1="530.5" x2="405.34" y2="530.5" stroke="#1a1a1a" stroke-width="1.6" />
<polyline points="238.4,459.5 292.88,448.5 329.2,447.7 401.84,444.6" fill="none" stroke="#1a1a1a" stroke-width="1.4" />
<polyline points="238.4,476.9 292.88,457.7 329.2,452.3 401.84,448.5" fill="none" stroke="#1a1a1a" stroke-width="1.4" />
<polyline points="238.4,513.9 292.88,514.3 329.2,514.6 401.84,513.5" fill="none" stroke="#1a1a1a" stroke-width="1.5" stroke-dasharray="3,1.3"/>
<polyline points="238.4,540.8 292.88,524.6 329.2,521.2 401.84,521.2" fill="none" stroke="#1a1a1a" stroke-width="1.4" stroke-dasharray="1.5,1.5"/>
<circle cx="238.4" cy="459.5" r="3.1" fill="#1a1a1a" stroke="none" stroke-width="0"/>
<path d="M238.4,473.06 L241.7,479.46 L235.1,479.46 Z" fill="#1a1a1a" stroke="#1a1a1a" stroke-width="0.4" stroke-linejoin="miter"/>
<circle cx="238.4" cy="513.9" r="2.7" fill="#fff" stroke="#1a1a1a" stroke-width="1.25"/>
<path d="M238.4,537.44 L241.2,543.04 L235.6,543.04 Z" fill="#fff" stroke="#1a1a1a" stroke-width="1.25" stroke-linejoin="miter"/>
<circle cx="292.88" cy="448.5" r="3.1" fill="#1a1a1a" stroke="none" stroke-width="0"/>
<path d="M292.88,453.86 L296.18,460.26 L289.58,460.26 Z" fill="#1a1a1a" stroke="#1a1a1a" stroke-width="0.4" stroke-linejoin="miter"/>
<circle cx="292.88" cy="514.3" r="2.7" fill="#fff" stroke="#1a1a1a" stroke-width="1.25"/>
<path d="M292.88,521.24 L295.68,526.84 L290.08,526.84 Z" fill="#fff" stroke="#1a1a1a" stroke-width="1.25" stroke-linejoin="miter"/>
<circle cx="329.2" cy="447.7" r="3.1" fill="#1a1a1a" stroke="none" stroke-width="0"/>
<path d="M329.2,448.46 L332.5,454.86 L325.9,454.86 Z" fill="#1a1a1a" stroke="#1a1a1a" stroke-width="0.4" stroke-linejoin="miter"/>
<circle cx="329.2" cy="514.6" r="2.7" fill="#fff" stroke="#1a1a1a" stroke-width="1.25"/>
<path d="M329.2,517.84 L332,523.44 L326.4,523.44 Z" fill="#fff" stroke="#1a1a1a" stroke-width="1.25" stroke-linejoin="miter"/>
<circle cx="401.84" cy="444.6" r="3.1" fill="#1a1a1a" stroke="none" stroke-width="0"/>
<path d="M401.84,444.66 L405.14,451.06 L398.54,451.06 Z" fill="#1a1a1a" stroke="#1a1a1a" stroke-width="0.4" stroke-linejoin="miter"/>
<circle cx="401.84" cy="513.5" r="2.7" fill="#fff" stroke="#1a1a1a" stroke-width="1.25"/>
<path d="M401.84,517.84 L404.64,523.44 L399.04,523.44 Z" fill="#fff" stroke="#1a1a1a" stroke-width="1.25" stroke-linejoin="miter"/>
<circle cx="238.2" cy="440.6" r="1.3" fill="#1a1a1a" stroke="none" stroke-width="0"/>
<circle cx="292.8" cy="431.5" r="1.3" fill="#1a1a1a" stroke="none" stroke-width="0"/>
<circle cx="327.35" cy="431.5" r="1.3" fill="#1a1a1a" stroke="none" stroke-width="0"/>
<circle cx="331.45" cy="431.5" r="1.3" fill="#1a1a1a" stroke="none" stroke-width="0"/>
<circle cx="400.45" cy="430.8" r="1.3" fill="#1a1a1a" stroke="none" stroke-width="0"/>
<circle cx="404.55" cy="430.8" r="1.3" fill="#1a1a1a" stroke="none" stroke-width="0"/>
<circle cx="292.8" cy="493.1" r="1.3" fill="#1a1a1a" stroke="none" stroke-width="0"/>
<circle cx="329.4" cy="483.1" r="1.3" fill="#1a1a1a" stroke="none" stroke-width="0"/>
<circle cx="400.45" cy="476.6" r="1.3" fill="#1a1a1a" stroke="none" stroke-width="0"/>
<circle cx="404.55" cy="476.6" r="1.3" fill="#1a1a1a" stroke="none" stroke-width="0"/>
<circle cx="242.2" cy="506.4" r="1.3" fill="#1a1a1a" stroke="none" stroke-width="0"/>
<text x="246.7" y="411.7" font-size="7.6" text-anchor="start" font-weight="bold" font-style="normal" fill="#111" stroke="#111" stroke-width="0.15" >NEUT</text>
<text x="343.2" y="411.6" font-size="7.6" text-anchor="start" font-weight="bold" font-style="normal" fill="#111" stroke="#111" stroke-width="0.15" >LYMPH</text>
<line x1="270.4" y1="403.5" x2="288.6" y2="403.5" stroke="#1a1a1a" stroke-width="1.4" />
<circle cx="279.6" cy="403" r="3" fill="#1a1a1a" stroke="none" stroke-width="0"/>
<line x1="270.4" y1="417.5" x2="288.6" y2="417.5" stroke="#1a1a1a" stroke-width="1.4" stroke-dasharray="1.5,2.2"/>
<circle cx="279.8" cy="417.7" r="2.7" fill="#fff" stroke="#1a1a1a" stroke-width="1.25"/>
<text x="291.1" y="405.6" font-size="7.5" text-anchor="start" font-weight="normal" font-style="normal" fill="#1a1a1a" stroke="#1a1a1a" stroke-width="0.28" >Cre<tspan font-size="5.2" dy="-3">+</tspan></text>
<text x="291.1" y="420.2" font-size="7.5" text-anchor="start" font-weight="normal" font-style="normal" fill="#1a1a1a" stroke="#1a1a1a" stroke-width="0.28" >Cre<tspan font-size="5.2" dy="-3">-</tspan></text>
<line x1="373.2" y1="403.5" x2="391.9" y2="403.5" stroke="#1a1a1a" stroke-width="1.4" />
<path d="M382.4,399.88 L385.8,406.08 L379,406.08 Z" fill="#1a1a1a" stroke="#1a1a1a" stroke-width="0.4" stroke-linejoin="miter"/>
<line x1="373.2" y1="418.5" x2="391.9" y2="418.5" stroke="#1a1a1a" stroke-width="1.4" stroke-dasharray="1.1,0.8"/>
<path d="M382.4,414.92 L385.3,420.72 L379.5,420.72 Z" fill="#fff" stroke="#1a1a1a" stroke-width="1.25" stroke-linejoin="miter"/>
<text x="394.6" y="405.4" font-size="7.5" text-anchor="start" font-weight="normal" font-style="normal" fill="#1a1a1a" stroke="#1a1a1a" stroke-width="0.28" >Cre<tspan font-size="5.2" dy="-3">+</tspan></text>
<text x="394.6" y="419.8" font-size="7.5" text-anchor="start" font-weight="normal" font-style="normal" fill="#1a1a1a" stroke="#1a1a1a" stroke-width="0.28" >Cre<tspan font-size="5.2" dy="-3">-</tspan></text>
<text x="467.9" y="390.4" font-size="10.2" text-anchor="start" font-weight="bold" font-style="normal" fill="#111" stroke="#111" stroke-width="0.15" >LT-HSC</text>
<rect x="470" y="515.4" width="15.8" height="44" fill="#b9b9b9"/>
<rect x="492.3" y="440.8" width="15.3" height="118.6" fill="#000"/>
<line x1="478.5" y1="515.4" x2="478.5" y2="507.2" stroke="#1a1a1a" stroke-width="1.1" />
<line x1="474" y1="507.5" x2="482" y2="507.5" stroke="#1a1a1a" stroke-width="1.4" />
<line x1="499.5" y1="440.8" x2="499.5" y2="433.4" stroke="#1a1a1a" stroke-width="1.1" />
<line x1="496.3" y1="433.5" x2="503.5" y2="433.5" stroke="#1a1a1a" stroke-width="1.4" />
<line x1="468.5" y1="426.9" x2="468.5" y2="559.9" stroke="#1a1a1a" stroke-width="1" />
<line x1="465.5" y1="559.5" x2="513" y2="559.5" stroke="#1a1a1a" stroke-width="1" />
<line x1="465.3" y1="559.5" x2="468" y2="559.5" stroke="#1a1a1a" stroke-width="1" />
<text x="462" y="561.9" font-size="7.5" text-anchor="end" font-weight="normal" font-style="normal" fill="#1a1a1a" stroke="#1a1a1a" stroke-width="0.28" >1</text>
<line x1="465.3" y1="495.5" x2="468" y2="495.5" stroke="#1a1a1a" stroke-width="1" />
<text x="462" y="498" font-size="7.5" text-anchor="end" font-weight="normal" font-style="normal" fill="#1a1a1a" stroke="#1a1a1a" stroke-width="0.28" >10</text>
<line x1="465.3" y1="431.5" x2="468" y2="431.5" stroke="#1a1a1a" stroke-width="1" />
<text x="462" y="434.1" font-size="7.5" text-anchor="end" font-weight="normal" font-style="normal" fill="#1a1a1a" stroke="#1a1a1a" stroke-width="0.28" >100</text>
<line x1="466.4" y1="540.5" x2="468" y2="540.5" stroke="#1a1a1a" stroke-width="0.8" />
<line x1="466.4" y1="528.5" x2="468" y2="528.5" stroke="#1a1a1a" stroke-width="0.8" />
<line x1="466.4" y1="520.5" x2="468" y2="520.5" stroke="#1a1a1a" stroke-width="0.8" />
<line x1="466.4" y1="514.5" x2="468" y2="514.5" stroke="#1a1a1a" stroke-width="0.8" />
<line x1="466.4" y1="509.5" x2="468" y2="509.5" stroke="#1a1a1a" stroke-width="0.8" />
<line x1="466.4" y1="505.5" x2="468" y2="505.5" stroke="#1a1a1a" stroke-width="0.8" />
<line x1="466.4" y1="501.5" x2="468" y2="501.5" stroke="#1a1a1a" stroke-width="0.8" />
<line x1="466.4" y1="498.5" x2="468" y2="498.5" stroke="#1a1a1a" stroke-width="0.8" />
<line x1="466.4" y1="476.5" x2="468" y2="476.5" stroke="#1a1a1a" stroke-width="0.8" />
<line x1="466.4" y1="464.5" x2="468" y2="464.5" stroke="#1a1a1a" stroke-width="0.8" />
<line x1="466.4" y1="456.5" x2="468" y2="456.5" stroke="#1a1a1a" stroke-width="0.8" />
<line x1="466.4" y1="450.5" x2="468" y2="450.5" stroke="#1a1a1a" stroke-width="0.8" />
<line x1="466.4" y1="445.5" x2="468" y2="445.5" stroke="#1a1a1a" stroke-width="0.8" />
<line x1="466.4" y1="441.5" x2="468" y2="441.5" stroke="#1a1a1a" stroke-width="0.8" />
<line x1="466.4" y1="437.5" x2="468" y2="437.5" stroke="#1a1a1a" stroke-width="0.8" />
<line x1="466.4" y1="434.5" x2="468" y2="434.5" stroke="#1a1a1a" stroke-width="0.8" />
<line x1="477.5" y1="559.4" x2="477.5" y2="562" stroke="#1a1a1a" stroke-width="1" />
<line x1="499.5" y1="559.4" x2="499.5" y2="562" stroke="#1a1a1a" stroke-width="1" />
<text x="477.6" y="572.4" font-size="8" text-anchor="middle" font-weight="normal" font-style="normal" fill="#1a1a1a" stroke="#1a1a1a" stroke-width="0.28" >Cre<tspan font-size="5.5" dy="-3">-</tspan></text>
<text x="499.4" y="572.4" font-size="8" text-anchor="middle" font-weight="normal" font-style="normal" fill="#1a1a1a" stroke="#1a1a1a" stroke-width="0.28" >Cre<tspan font-size="5.5" dy="-3">+</tspan></text>
<polygon points="485.4,423.8 486.11,425.52 487.97,425.67 486.56,426.88 486.99,428.68 485.4,427.71 483.81,428.68 484.24,426.88 482.83,425.67 484.69,425.52" fill="#1a1a1a"/>
<polygon points="491.5,423.8 492.21,425.52 494.07,425.67 492.66,426.88 493.09,428.68 491.5,427.71 489.91,428.68 490.34,426.88 488.93,425.67 490.79,425.52" fill="#1a1a1a"/>
<text transform="translate(442,493.9) rotate(-90) scale(0.87,1)" stroke="#1a1a1a" stroke-width="0.12" font-size="10.23" text-anchor="middle" fill="#1a1a1a">% Donor</text>
<rect x="0" y="0" width="520" height="1" fill="#111"/>
<rect x="0" y="0" width="1" height="596" fill="#111"/>
<rect x="519" y="0" width="1" height="596" fill="#111"/>
<rect x="0" y="594.5" width="520" height="1.5" fill="#111"/>
</svg>
</body></html>
